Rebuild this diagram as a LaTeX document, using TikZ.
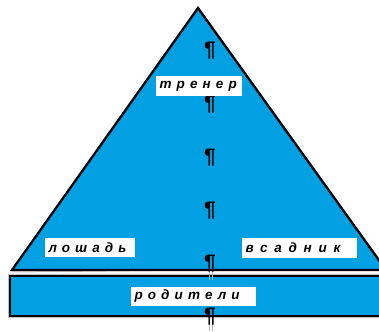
\documentclass[tikz,border=0pt]{standalone}
\usepackage{fontspec}
\setmainfont{Liberation Sans}
\newfontfamily\labfont[LetterSpace=38]{Liberation Sans}
\newfontfamily\widefont[LetterSpace=50]{Liberation Sans}
\definecolor{skyblue}{RGB}{0,160,227}
\tikzset{
  labelbox/.style={fill=white, inner xsep=3.5pt, inner ysep=0pt, align=left, font=\labfont\bfseries\itshape\fontsize{13.5}{15}\selectfont, anchor=center},
  pil/.style={font=\fontsize{21}{21}\selectfont\bfseries, inner sep=0pt, text=black},
  shapeline/.style={draw=black, line width=2.3pt, line join=miter}
}
\begin{document}
\begin{tikzpicture}[x=1pt,y=-1pt]
\useasboundingbox (0,0) rectangle (379,331);
% triangle
\coordinate (apex) at (198,8);
\coordinate (bl) at (12,270);
\coordinate (br) at (386,270);
\draw[gray!50, line width=1pt] (bl) ++(0,2) -- ([yshift=2pt]br);
\fill[skyblue] (apex) -- (bl) -- (br) -- cycle;
\draw[shapeline] (apex) -- (bl) -- (br) -- cycle;
% base rectangle
\coordinate (rtl) at (10,276);
\coordinate (rbr) at (392,316);
\draw[gray!50, line width=4.5pt] (rtl) rectangle (rbr);
\fill[skyblue] (rtl) rectangle (rbr);
\draw[black, line width=2.5pt] (rtl) rectangle (rbr);
% pilcrow stems below
\draw[gray!60, line width=0.6pt] (209.5,262) -- (209.5,280);
\draw[gray!60, line width=0.6pt] (212.5,262) -- (212.5,280);
\draw[gray!60, line width=0.6pt] (209.5,316) -- (209.5,331);
\draw[gray!60, line width=0.6pt] (212.5,316) -- (212.5,331);
% pilcrows
\node[pil] (p1) at (210,51) {¶};
\node[pil] (p2) at (210,105) {¶};
\node[pil] (p3) at (210,158) {¶};
\node[pil] (p4) at (210,211) {¶};
\node[pil] (p5) at (210,264) {¶};
\node[pil] (p6) at (210,317) {¶};
% labels
\node[labelbox, text width=79pt, minimum height=20pt] (trener) at (199,86) {тренер};
\node[labelbox, text width=83pt, minimum height=19pt] (loshad) at (90,247.5) {лошадь};
\node[labelbox, text width=108pt, minimum height=20pt, font=\widefont\bfseries\itshape\fontsize{13.5}{15}\selectfont] (vsadnik) at (299.5,248) {всадник};
\node[labelbox, text width=118pt, minimum height=19pt] (roditeli) at (193.5,296.5) {родители};
\end{tikzpicture}
\end{document}
